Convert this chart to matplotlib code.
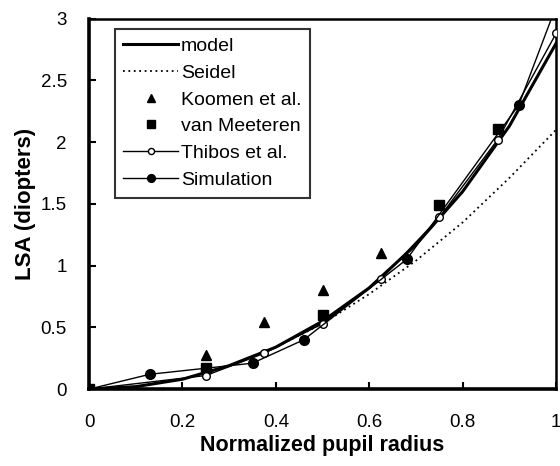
import matplotlib.pyplot as plt

plt.rcParams['font.family'] = ['Liberation Sans', 'DejaVu Sans']

# model curve (thick solid)
model_x = [0, 0.1, 0.2, 0.3, 0.4, 0.5, 0.6, 0.7, 0.8, 0.9, 1.0]
model_y = [0, 0.02, 0.08, 0.19, 0.34, 0.55, 0.82, 1.17, 1.60, 2.13, 2.80]

# Seidel (dotted)
seidel_x = [0, 0.1, 0.2, 0.3, 0.4, 0.5, 0.6, 0.7, 0.8, 0.9, 1.0]
seidel_y = [0, 0.02, 0.08, 0.19, 0.34, 0.53, 0.77, 1.04, 1.35, 1.71, 2.10]

# Koomen et al.
koomen_x = [0.25, 0.375, 0.5, 0.625]
koomen_y = [0.28, 0.54, 0.80, 1.10]

# van Meeteren
meet_x = [0, 0.25, 0.5, 0.75, 0.875]
meet_y = [0, 0.17, 0.60, 1.49, 2.11]

# Thibos et al.
thibos_x = [0, 0.25, 0.375, 0.5, 0.625, 0.75, 0.875, 1.0]
thibos_y = [0, 0.11, 0.29, 0.53, 0.89, 1.39, 2.02, 2.88]

# Simulation (last point runs off the top)
sim_x = [0, 0.13, 0.35, 0.46, 0.68, 0.92, 1.0]
sim_y = [0, 0.12, 0.21, 0.40, 1.05, 2.30, 3.10]

fig = plt.figure(figsize=(5.6, 4.66), dpi=100)
ax = fig.add_axes([0.159, 0.165, 0.834, 0.795])

ax.plot(model_x, model_y, color='black', lw=2.2, label='model', zorder=3)
ax.plot(seidel_x, seidel_y, color='black', lw=1.3, ls=(0, (1, 2)), label='Seidel', zorder=2)
ax.plot(koomen_x, koomen_y, ls='none', marker='^', ms=7.5, color='black', label='Koomen et al.', zorder=4)
ax.plot(meet_x, meet_y, ls='none', marker='s', ms=7.5, color='black', label='van Meeteren', zorder=4)
ax.plot(thibos_x, thibos_y, color='black', lw=1.0, marker='o', ms=5.5, mfc='white',
        mec='black', mew=1.0, label='Thibos et al.', zorder=4)
ax.plot(sim_x, sim_y, color='black', lw=1.0, marker='o', ms=7, markevery=list(range(len(sim_x) - 1)),
        label='Simulation', zorder=4)

ax.set_xlim(0, 1)
ax.set_ylim(0, 3)
ax.set_xticks([0, 0.2, 0.4, 0.6, 0.8, 1])
ax.set_xticklabels(['0', '0.2', '0.4', '0.6', '0.8', '1'])
ax.set_yticks([0, 0.5, 1, 1.5, 2, 2.5, 3])
ax.set_yticklabels(['0', '0.5', '1', '1.5', '2', '2.5', '3'])
ax.tick_params(direction='in', length=5, width=1.5, labelsize=13.5)
ax.tick_params(axis='x', pad=18)
ax.tick_params(axis='y', pad=16)

for s in ax.spines.values():
    s.set_linewidth(1.8)
ax.spines['left'].set_linewidth(2.6)
ax.spines['bottom'].set_linewidth(2.6)

ax.set_xlabel('Normalized pupil radius', fontsize=15.5, fontweight='bold', labelpad=3)
ax.set_ylabel('LSA (diopters)', fontsize=16, fontweight='bold', labelpad=3)

leg = ax.legend(loc='upper left', bbox_to_anchor=(0.055, 0.973), fontsize=14, frameon=True,
                fancybox=False, edgecolor='black', handlelength=2.8, handletextpad=0.15,
                labelspacing=0.47, borderpad=0.45, borderaxespad=0, markerscale=0.8)
leg.get_frame().set_linewidth(1.5)

fig.savefig('out.png', dpi=100)
